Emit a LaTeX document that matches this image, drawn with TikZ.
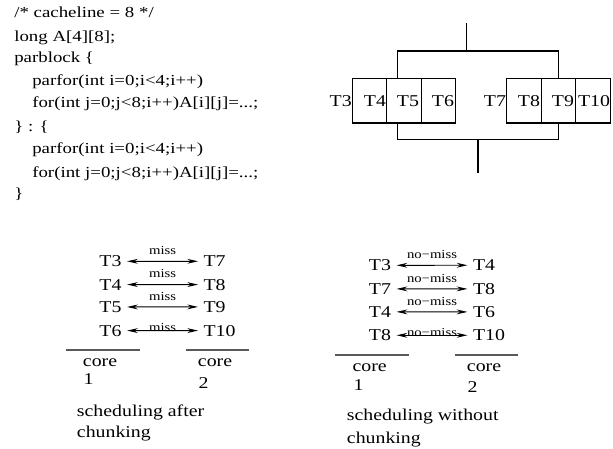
\documentclass[tikz,border=0pt]{standalone}
\usepackage{fontspec}
\setmainfont{Liberation Serif}
\usetikzlibrary{arrows.meta}
\newcommand{\sx}[1]{\scalebox{1.2}[1]{#1}}
\newcommand{\cx}[1]{\scalebox{1.23}[1]{#1}}
\begin{document}
\begin{tikzpicture}[x=0.75pt,y=-0.75pt,
  ctxt/.style={inner sep=0pt, font=\fontsize{11.5}{13}\selectfont},
  txt/.style={inner sep=0pt, font=\fontsize{12.4}{14}\selectfont},
  code/.style={ctxt, anchor=base west},
  plain/.style={txt, anchor=base west},
  tlab/.style={txt, anchor=base},
  sl/.style={txt, inner xsep=4pt, inner ysep=0pt, anchor=base},
  sr/.style={txt, inner xsep=4pt, inner ysep=0pt, anchor=base west},
  tbox/.style={draw, line width=0.8pt, minimum width=25.875pt, minimum height=33.2pt, inner sep=0pt},
  ln/.style={line width=0.8pt},
  arr/.style={{Stealth[length=8pt,width=3.6pt]}-{Stealth[length=8pt,width=3.6pt]}, line width=0.7pt},
  lbl/.style={inner sep=0pt, font=\fontsize{9.2}{10}\selectfont, anchor=base},
  rule/.style={line width=1.1pt, black!65}]
\useasboundingbox (0,0) rectangle (613,449);

% code
\node[code] (c1) at (14,18) {\cx{/* cacheline = 8 */}};
\node[code] (c2) at (14,42) {\cx{long A[4][8];}};
\node[code] (c3) at (14,63) {\cx{parblock \{}};
\node[code] (c4) at (32,86) {\cx{parfor(int i=0;i<4;i++)}};
\node[code] (c5) at (32,108) {\cx{for(int j=0;j<8;i++)A[i][j]=...;}};
\node[code] (c6) at (14,132) {\cx{\} : \{}};
\node[code] (c7) at (32,153) {\cx{parfor(int i=0;i<4;i++)}};
\node[code] (c8) at (32,177) {\cx{for(int j=0;j<8;i++)A[i][j]=...;}};
\node[code] (c9) at (14,198) {\cx{\}}};

% top-right structure
\node[tbox] (b4) at (369.35,100.85) {};
\node[tbox] (b5) at (403.85,100.85) {};
\node[tbox] (b6) at (438.35,100.85) {};
\node[tbox] (b8) at (524,100.85) {};
\node[tbox] (b9) at (558.5,100.85) {};
\node[tbox] (b10) at (593,100.85) {};
\node[tlab] (t3) at (340.7,107) {\sx{T3}};
\node[tlab] (t4) at (375,107) {\sx{T4}};
\node[tlab] (t5) at (408,107) {\sx{T5}};
\node[tlab] (t6) at (443,107) {\sx{T6}};
\node[tlab] (t7) at (495,107) {\sx{T7}};
\node[tlab] (t8) at (529,107) {\sx{T8}};
\node[tlab] (t9) at (563,107) {\sx{T9}};
\node[tlab] (t10) at (594,107) {\sx{T10}};
\coordinate (top) at (466.7,23);
\coordinate (tj) at (466.7,51);
\coordinate (tl) at (397.7,51);
\coordinate (tr) at (558.5,51);
\coordinate (bl) at (397.7,139.3);
\coordinate (br) at (558.5,139.3);
\coordinate (bj) at (478,139.3);
\coordinate (bot) at (478,172.7);
\draw[ln] (top) -- (tj);
\draw[ln] (b5.north -| tl) -- (tl) -- (tr) -- (b9.north);
\draw[ln] (b5.south -| bl) -- (bl) -- (br) -- (b9.south);
\draw[ln] (bj) -- (bot);

% scheduling after chunking
\node[sl] (la1) at (110.5,266.7) {\sx{T3}};
\node[sl] (la2) at (110.5,290) {\sx{T4}};
\node[sl] (la3) at (110.5,312.3) {\sx{T5}};
\node[sl] (la4) at (110.5,336) {\sx{T6}};
\node[sr] (ra1) at (198,266.7) {\sx{T7}};
\node[sr] (ra2) at (198,290) {\sx{T8}};
\node[sr] (ra3) at (198,312.3) {\sx{T9}};
\node[sr] (ra4) at (198,336) {\sx{T10}};
\draw[arr] (la1.east) -- (ra1.west) node[lbl, midway, yshift=5pt] {\sx{miss}};
\draw[arr] (la2.east) -- (ra2.west) node[lbl, midway, yshift=5pt] {\sx{miss}};
\draw[arr] (la3.east) -- (ra3.west) node[lbl, midway, yshift=5pt] {\sx{miss}};
\draw[arr] (la4.east) -- (ra4.west) node[lbl, midway, yshift=-0.5pt] {\sx{miss}};
\draw[rule] (66,350) -- (140,350);
\draw[rule] (186,350) -- (249,350);
\node[plain] (ca1) at (82.7,366.7) {\sx{core}};
\node[plain] (ca2) at (83.3,384) {\sx{1}};
\node[plain] (ca3) at (197.7,366.7) {\sx{core}};
\node[plain] (ca4) at (198.3,388.3) {\sx{2}};
\node[plain] (capa1) at (76.7,416) {\sx{scheduling after}};
\node[plain] (capa2) at (76.7,437) {\sx{chunking}};

% scheduling without chunking
\node[sl] (lb1) at (380,270.7) {\sx{T3}};
\node[sl] (lb2) at (380,294.3) {\sx{T7}};
\node[sl] (lb3) at (380,317.3) {\sx{T4}};
\node[sl] (lb4) at (380,340.7) {\sx{T8}};
\node[sr] (rb1) at (467.4,270.7) {\sx{T4}};
\node[sr] (rb2) at (467.4,294.3) {\sx{T8}};
\node[sr] (rb3) at (467.4,317.3) {\sx{T6}};
\node[sr] (rb4) at (467.4,340.7) {\sx{T10}};
\draw[arr] (lb1.east) -- (rb1.west) node[lbl, midway, yshift=5pt] {\sx{no−miss}};
\draw[arr] (lb2.east) -- (rb2.west) node[lbl, midway, yshift=5pt] {\sx{no−miss}};
\draw[arr] (lb3.east) -- (rb3.west) node[lbl, midway, yshift=5pt] {\sx{no−miss}};
\draw[arr] (lb4.east) -- (rb4.west) node[lbl, midway, yshift=-1pt] {\sx{no−miss}};
\draw[rule] (335,355) -- (409.3,355);
\draw[rule] (455,355) -- (518.3,355);
\node[plain] (cb1) at (352.3,371.7) {\sx{core}};
\node[plain] (cb2) at (353.3,390.7) {\sx{1}};
\node[plain] (cb3) at (466.7,371.7) {\sx{core}};
\node[plain] (cb4) at (467.3,392.7) {\sx{2}};
\node[plain] (capb1) at (346.7,420.7) {\sx{scheduling without}};
\node[plain] (capb2) at (346.7,443.3) {\sx{chunking}};
\end{tikzpicture}
\end{document}
